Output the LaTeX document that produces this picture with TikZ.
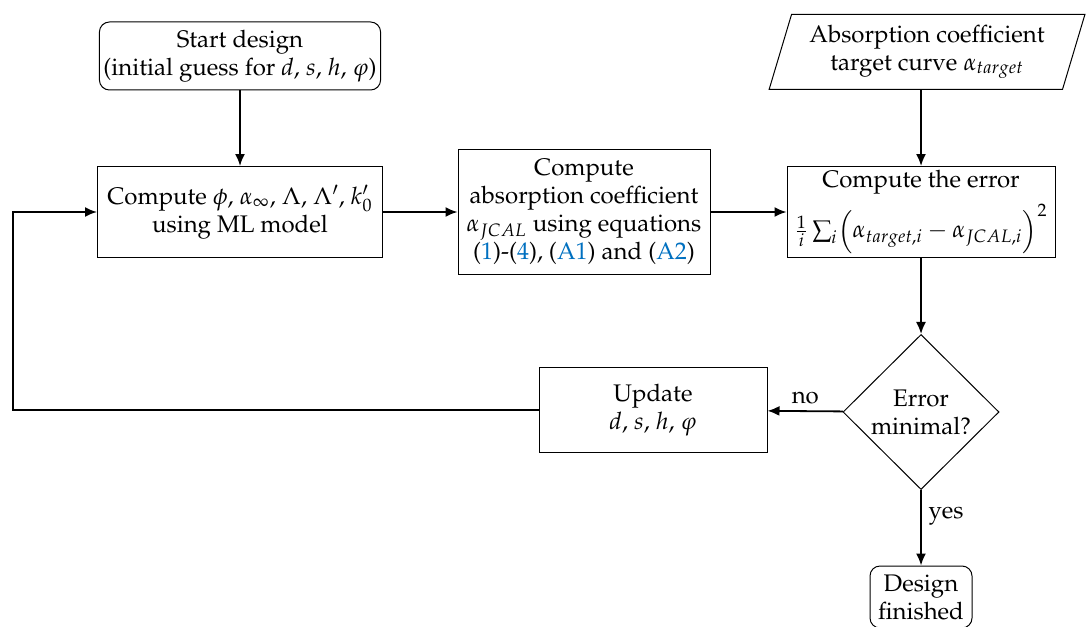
\documentclass[tikz,border=0pt]{standalone}
\usepackage[T1]{fontenc}
\usepackage{mathpazo}
\usepackage{amsmath}
\usepackage{xcolor}
\usepackage{tikz}
\usetikzlibrary{positioning,arrows.meta,shapes.geometric,calc}
\definecolor{refblue}{RGB}{0,112,192}

\begin{document}
\begin{tikzpicture}[
  x=0.5pt, y=-0.5pt,
  blk/.style={draw, align=center, font=\large, inner sep=2pt, line width=0.5pt},
  proc/.style={blk},
  term/.style={blk, rounded corners=5pt},
  io/.style={blk, trapezium, trapezium left angle=72, trapezium right angle=108, trapezium stretches=true},
  dec/.style={blk, diamond, inner sep=0pt},
  arr/.style={-{Latex[length=6pt,width=5pt]}, line width=0.9pt}]
  \useasboundingbox (0,0) rectangle (1086,626);
  \node[term, minimum width=130pt, minimum height=34pt] (start) at (240,56) {Start design\\(initial guess for $d$, $s$, $h$, $\varphi$)};
  \node[proc, minimum width=142.5pt, minimum height=45.5pt] (ml) at (240,212) {Compute $\phi$, $\alpha_\infty$, $\Lambda$, $\Lambda'$, $k_0'$\\using ML model};
  \node[proc, minimum width=126pt, minimum height=62.5pt] (jcal) at (584,212) {Compute\\absorption coefficient\\$\alpha_{JCAL}$ using equations\\(\textcolor{refblue}{1})-(\textcolor{refblue}{4}), (\textcolor{refblue}{A1}) and (\textcolor{refblue}{A2})};
  \node[io, minimum width=158pt, minimum height=37.5pt] (target) at (927,52) {Absorption coefficient\\target curve $\alpha_{target}$};
  \node[proc, minimum width=134pt, minimum height=45.5pt, inner sep=1pt] (err) at (921,212) {Compute the error\\[4pt]$\frac{1}{i}\sum_i\Bigl(\alpha_{target,i}-\alpha_{JCAL,i}\Bigr)^2$};
  \node[dec, minimum width=78pt, minimum height=77.5pt] (test) at (921,412) {Error\\minimal?};
  \node[proc, minimum width=114pt, minimum height=42.5pt] (upd) at (653,410) {Update\\$d$, $s$, $h$, $\varphi$};
  \node[term, minimum width=51pt, minimum height=31pt] (fin) at (921,597) {Design\\finished};
  \coordinate (back) at (13,410);
  % connectors
  \draw[arr] (start) -- (ml);
  \draw[arr] (ml) -- (jcal);
  \draw[arr] (jcal) -- (err);
  \draw[arr] (target.south -| err.north) -- (err);
  \draw[arr] (err) -- (test);
  \draw[arr] (test) -- node[above, font=\large]{no} (upd);
  \draw[arr] (test) -- node[right, pos=0.35, font=\large]{yes} (fin);
  \draw[arr] (upd.west) -- (back) |- (ml.west);
\end{tikzpicture}
\end{document}
